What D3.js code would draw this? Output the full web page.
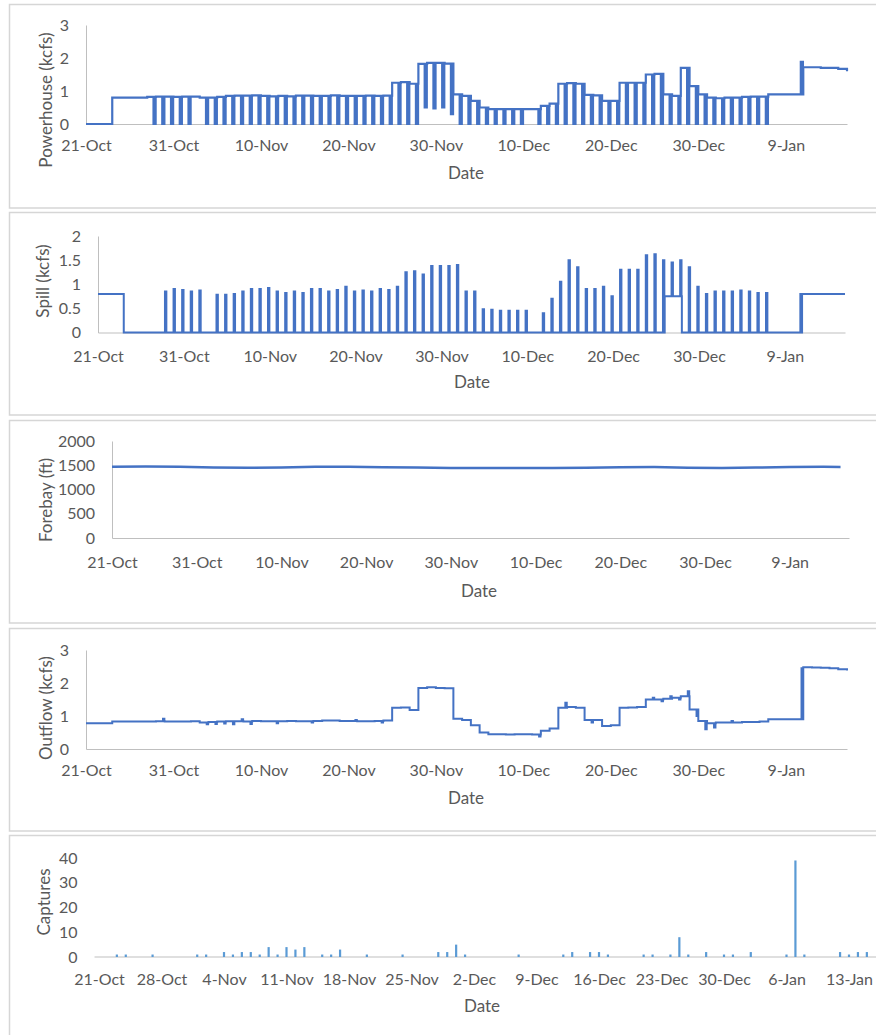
<!DOCTYPE html>
<html>
<head>
<meta charset="utf-8">
<script src="https://cdn.jsdelivr.net/npm/d3@7"></script>
<style>
  body { margin: 0; background: #fff; }
  text { font-family: Lato, "Open Sans", sans-serif; }
</style>
</head>
<body>
<div id="container"></div>
<script>
/* DATA - one value per day, day 0 = 21-Oct */
const startDay = Date.UTC(2019, 9, 21)

const flowTicks = ["21-Oct", "31-Oct", "10-Nov", "20-Nov", "30-Nov", "10-Dec", "20-Dec", "30-Dec", "9-Jan"]
const captureTicks = ["21-Oct", "28-Oct", "4-Nov", "11-Nov", "18-Nov", "25-Nov", "2-Dec", "9-Dec", "16-Dec", "23-Dec", "30-Dec", "6-Jan", "13-Jan"]

// powerhouse level through the day, and the value it drops to late in the day (null = no drop)
const powerhouseLevel = [
  0, 0, 0, 0.8, 0.8, 0.8, 0.8, 0.82, 0.83, 0.83,
  0.82, 0.83, 0.83, 0.8, 0.8, 0.82, 0.85, 0.86, 0.86, 0.87,
  0.85, 0.84, 0.85, 0.84, 0.86, 0.86, 0.85, 0.85, 0.87, 0.85,
  0.85, 0.85, 0.86, 0.85, 0.86, 1.25, 1.27, 1.22, 1.82, 1.85,
  1.85, 1.83, 0.9, 0.85, 0.7, 0.5, 0.45, 0.45, 0.45, 0.45,
  0.45, 0.45, 0.55, 0.62, 1.22, 1.24, 1.22, 0.88, 0.87, 0.7,
  0.7, 1.25, 1.25, 1.25, 1.5, 1.52, 0.9, 0.85, 1.7, 1.15,
  0.9, 0.8, 0.78, 0.8, 0.8, 0.82, 0.83, 0.83, 0.9, 0.9,
  0.9, 0.9, 1.72, 1.72, 1.7, 1.7, 1.67, 1.6
]
const powerhouseDip = [
  null, null, null, null, null, null, null, 0, 0, 0,
  0, 0, null, 0, 0, 0, 0, 0, 0, 0,
  0, 0, 0, 0, 0, 0, 0, 0, 0, 0,
  0, 0, 0, 0, 0, 0, 0, 0, 0.5, 0.47,
  0.5, 0.3, 0, 0, 0, 0, 0, 0, 0, 0,
  null, 0, 0, 0, 0, 0, 0, 0, 0, 0,
  0, 0, 0, 0, 0, 0, 0, 0, 0, 0,
  0, 0, 0, 0, 0, 0, 0, 0, null, null,
  null, 1.88, null, null, null, null, null, null
]

const spillLevel = [
  0.8, 0.8, 0.8, 0, 0, 0, 0, 0, 0, 0,
  0, 0, 0, 0, 0, 0, 0, 0, 0, 0,
  0, 0, 0, 0, 0, 0, 0, 0, 0, 0,
  0, 0, 0, 0, 0, 0, 0, 0, 0, 0,
  0, 0, 0, 0, 0, 0, 0, 0, 0, 0,
  0, 0, 0, 0, 0, 0, 0, 0, 0, 0,
  0, 0, 0, 0, 0, 0, 0.75, 0.75, 0, 0,
  0, 0, 0, 0, 0, 0, 0, 0, 0, 0,
  0, 0, 0.8, 0.8, 0.8, 0.8, 0.8, 0.8
]
const spillSpike = [
  null, null, null, null, null, null, null, 0.85, 0.9, 0.88,
  0.85, 0.87, null, 0.78, 0.78, 0.8, 0.85, 0.9, 0.9, 0.92,
  0.85, 0.82, 0.85, 0.82, 0.9, 0.9, 0.85, 0.88, 0.95, 0.85,
  0.87, 0.85, 0.9, 0.88, 0.95, 1.25, 1.27, 1.2, 1.38, 1.38,
  1.38, 1.4, 0.85, 0.85, 0.48, 0.47, 0.45, 0.45, 0.45, 0.45,
  null, 0.4, 0.7, 1.05, 1.5, 1.35, 0.9, 0.9, 0.95, 0.75,
  1.3, 1.3, 1.3, 1.6, 1.62, 1.5, 1.45, 1.5, 1.35, 0.95,
  0.8, 0.85, 0.85, 0.85, 0.87, 0.85, 0.82, 0.82, null, null,
  null, 0.8, null, null, null, null, null, null
]

const outflowLevel = [
  0.78, 0.78, 0.78, 0.83, 0.83, 0.83, 0.83, 0.83, 0.84, 0.83,
  0.83, 0.83, 0.84, 0.8, 0.82, 0.83, 0.84, 0.84, 0.83, 0.85,
  0.84, 0.84, 0.84, 0.85, 0.84, 0.84, 0.85, 0.86, 0.86, 0.85,
  0.85, 0.84, 0.84, 0.85, 0.86, 1.25, 1.26, 1.18, 1.85, 1.87,
  1.85, 1.84, 0.92, 0.88, 0.72, 0.5, 0.45, 0.45, 0.44, 0.45,
  0.45, 0.44, 0.55, 0.62, 1.25, 1.27, 1.25, 0.88, 0.88, 0.7,
  0.72, 1.25, 1.26, 1.27, 1.5, 1.5, 1.52, 1.55, 1.6, 1.2,
  0.85, 0.78, 0.8, 0.8, 0.8, 0.82, 0.82, 0.83, 0.9, 0.9,
  0.9, 0.9, 2.48, 2.47, 2.46, 2.45, 2.42, 2.38
]
const outflowBlip = [
  null, null, null, null, null, null, null, null, 0.92, null,
  null, null, null, 0.75, 0.76, 0.77, 0.75, 0.9, 0.76, null,
  null, 0.78, null, null, null, 0.8, null, null, null, null,
  0.88, null, null, 0.8, null, null, null, null, null, null,
  null, null, null, null, null, null, null, null, null, null,
  null, 0.38, null, null, 1.4, null, null, 0.8, null, null,
  null, null, null, null, 1.55, 1.45, 1.6, 1.5, 1.75, 1.0,
  0.6, 0.65, null, 0.85, null, null, null, null, null, null,
  null, 2.45, null, null, null, null, null, null
]

const forebayDays = [0, 4, 8, 12, 16, 20, 24, 28, 32, 36, 40, 44, 48, 52, 56, 60, 64, 68, 72, 76, 80, 84, 86]
const forebayValues = [1470, 1472, 1468, 1452, 1450, 1452, 1468, 1470, 1460, 1455, 1445, 1442, 1445, 1445, 1448, 1460, 1462, 1450, 1445, 1452, 1465, 1468, 1466]

const captures = [
  0, 0, 1, 1, 0, 0, 1, 0, 0, 0,
  0, 1, 1, 0, 2, 1, 2, 2, 1, 4,
  1, 4, 3, 4, 0, 1, 1, 3, 0, 0,
  1, 0, 0, 0, 1, 0, 0, 0, 2, 2,
  5, 1, 0, 0, 0, 0, 0, 1, 0, 0,
  0, 0, 1, 2, 0, 2, 2, 1, 0, 0,
  0, 1, 1, 0, 1, 8, 1, 0, 2, 0,
  1, 1, 0, 2, 0, 0, 0, 1, 39, 1,
  0, 0, 0, 2, 1, 2, 2, 0
]

/* HELPERS */
const dayMs = 86400000
const toDate = t => new Date(startDay + t * dayMs)
const parseTick = s => d3.utcParse("%d-%b-%Y")(s + (s.endsWith("Jan") ? "-2020" : "-2019"))
const fmt = d3.utcFormat("%-d-%b")
const textColor = "#595959", axisColor = "#bfbfbf", lineColor = "#4472C4"

// level held through each day, with a short drop/spike late in the day (from a to b)
function stepPoints(level, dip, a, b) {
  const pts = []
  level.forEach((v, i) => {
    pts.push({ t: i, v: v })
    if (dip[i] != null && i < level.length - 1) {
      pts.push({ t: i + a, v: dip[i] })
      pts.push({ t: i + b, v: v })
    }
  })
  return pts
}

const svg = d3.select("#container")
  .append("svg")
  .attr("width", 876)
  .attr("height", 1035)

// panel frames
const frames = [[4.5, 208], [212.5, 415], [420.5, 623], [628.5, 831], [835.5, 1045]]
svg.selectAll(".frame")
  .data(frames)
  .join("rect")
  .attr("class", "frame")
  .attr("x", 9.5)
  .attr("y", d => d[0])
  .attr("width", 880)
  .attr("height", d => d[1] - d[0])
  .attr("fill", "#fff")
  .attr("stroke", "#d6d6d6")
  .attr("stroke-width", 1.5)

function styleAxis(g, fontSize) {
  g.attr("font-family", null).attr("font-size", fontSize).attr("color", textColor)
  g.select(".domain").attr("stroke", axisColor).attr("stroke-width", 1)
}

function addTitles(p) {
  svg.append("text")
    .attr("x", p.dateX).attr("y", p.dateY).attr("dy", "0.35em")
    .attr("text-anchor", "middle").attr("font-size", 17).attr("fill", textColor)
    .text("Date")
  svg.append("text")
    .attr("transform", `translate(${p.titleX},${p.titleY}) rotate(-90)`)
    .attr("dy", "0.35em")
    .attr("text-anchor", "middle").attr("font-size", 17).attr("fill", textColor)
    .text(p.title)
}

function linePanel(p) {
  const x = d3.scaleUtc().domain([toDate(0), toDate(87)]).range([p.left, p.right])
  const y = d3.scaleLinear().domain([0, p.max]).range([p.bottom, p.top])

  svg.append("g")
    .attr("transform", `translate(0,${p.bottom})`)
    .call(d3.axisBottom(x).tickValues(flowTicks.map(parseTick)).tickFormat(fmt).tickSize(0).tickSizeOuter(0).tickPadding(p.xPad))
    .call(g => styleAxis(g, 16))

  svg.append("g")
    .attr("transform", `translate(${p.left},0)`)
    .call(d3.axisLeft(y).tickValues(p.yTicks).tickFormat(d => d).tickSize(0).tickSizeOuter(0).tickPadding(17))
    .call(g => styleAxis(g, 16))

  const line = d3.line()
    .x(d => x(toDate(d.t)))
    .y(d => y(d.v))
    .curve(p.curve)

  svg.append("path")
    .datum(p.points)
    .attr("fill", "none")
    .attr("stroke", lineColor)
    .attr("stroke-width", p.width || 2)
    .attr("d", line)

  addTitles(p)
}

// POWERHOUSE
linePanel({
  left: 86, right: 847, top: 25, bottom: 124, max: 3, yTicks: [0, 1, 2, 3], xPad: 16,
  points: stepPoints(powerhouseLevel, powerhouseDip, 0.72, 0.96), curve: d3.curveStepAfter, width: 2.2,
  title: "Powerhouse (kcfs)", titleX: 46, titleY: 100, dateX: 466, dateY: 173
})

// SPILL
linePanel({
  left: 98, right: 845, top: 236, bottom: 332.5, max: 2, yTicks: [0, 0.5, 1, 1.5, 2], xPad: 18,
  points: stepPoints(spillLevel, spillSpike, 0.8, 0.96), curve: d3.curveStepAfter,
  title: "Spill (kcfs)", titleX: 43, titleY: 281, dateX: 472, dateY: 382
})

// FOREBAY
linePanel({
  left: 112, right: 849, top: 441, bottom: 538, max: 2000, yTicks: [0, 500, 1000, 1500, 2000], xPad: 19,
  points: forebayDays.map((t, i) => ({ t: t, v: forebayValues[i] })), curve: d3.curveLinear, width: 2.5,
  title: "Forebay (ft)", titleX: 46, titleY: 500, dateX: 479, dateY: 591
})

// OUTFLOW
linePanel({
  left: 86, right: 847, top: 650, bottom: 749, max: 3, yTicks: [0, 1, 2, 3], xPad: 16,
  points: stepPoints(outflowLevel, outflowBlip, 0.8, 0.96), curve: d3.curveStepAfter,
  title: "Outflow (kcfs)", titleX: 46, titleY: 708, dateX: 466, dateY: 798
})

// CAPTURES (column chart)
const xC = d3.scaleUtc().domain([toDate(0), toDate(84)]).range([99, 849])
const yC = d3.scaleLinear().domain([0, 40]).range([957, 858])

svg.append("line")
  .attr("x1", xC(toDate(-0.5))).attr("x2", xC(toDate(87.5)))
  .attr("y1", yC(0)).attr("y2", yC(0))
  .attr("stroke", axisColor)

svg.append("g")
  .attr("transform", `translate(0,${yC(0)})`)
  .call(d3.axisBottom(xC).tickValues(captureTicks.map(parseTick)).tickFormat(fmt).tickSize(0).tickPadding(17))
  .call(g => styleAxis(g, 16))
  .call(g => g.select(".domain").remove())

svg.append("g")
  .attr("transform", `translate(${xC(toDate(-0.5))},0)`)
  .call(d3.axisLeft(yC).tickValues([0, 10, 20, 30, 40]).tickSize(0).tickPadding(17))
  .call(g => styleAxis(g, 16))
  .call(g => g.select(".domain").remove())

svg.selectAll(".capture")
  .data(captures.map((v, i) => ({ t: i, v: v })).filter(d => d.v > 0))
  .join("rect")
  .attr("class", "capture")
  .attr("x", d => xC(toDate(d.t)) - 1.1)
  .attr("width", 2.2)
  .attr("y", d => yC(d.v))
  .attr("height", d => yC(0) - yC(d.v))
  .attr("fill", "#5B9BD5")

addTitles({ title: "Captures", titleX: 44, titleY: 902, dateX: 482, dateY: 1006 })
</script>
</body>
</html>
